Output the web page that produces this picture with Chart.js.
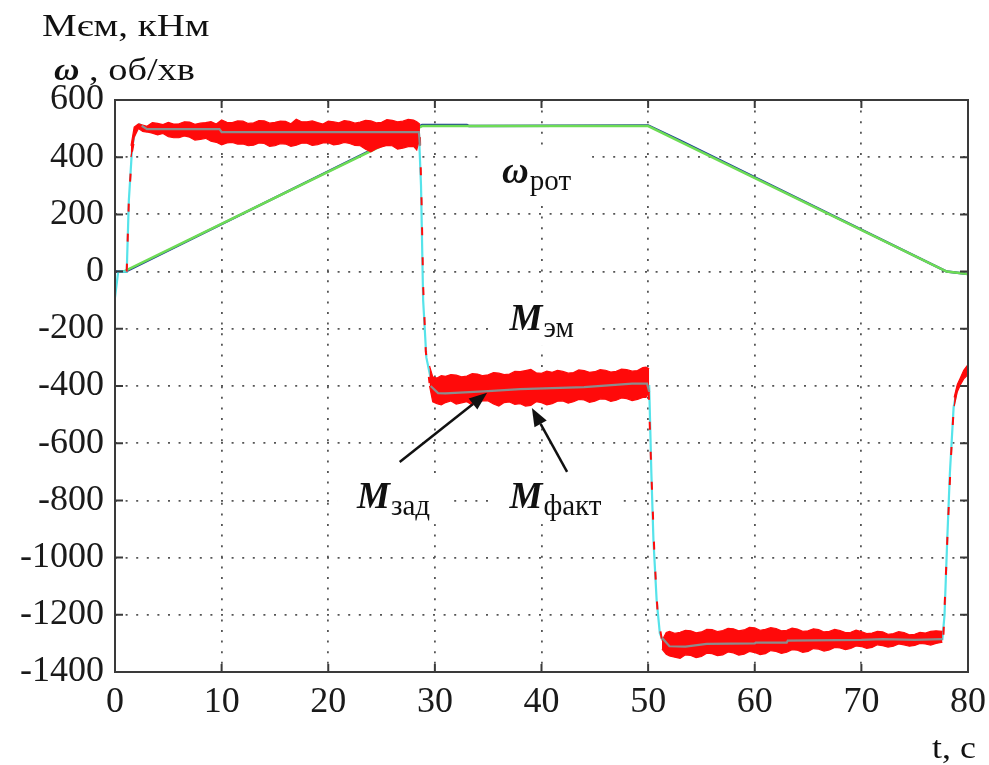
<!DOCTYPE html>
<html>
<head>
<meta charset="utf-8">
<script src="https://cdn.jsdelivr.net/npm/chart.js@4.4.0/dist/chart.umd.min.js"></script>
<style>
  html, body { margin: 0; padding: 0; background: #fff; }
</style>
</head>
<body>
<canvas id="myChart" width="989" height="765"></canvas>
<script>
// axis ticks
const xTicks = [0, 10, 20, 30, 40, 50, 60, 70, 80];
const yTicks = [600, 400, 200, 0, -200, -400, -600, -800, -1000, -1200, -1400];

// omega, set value (green) and actual (dark blue)
const omegaRefT = [0.8, 28.8, 50, 78, 80];
const omegaRefV = [0, 509, 509, 0, -8];
const omegaActT = [0, 1.0, 28.8, 33, 33.2, 50, 53, 78, 80];
const omegaActV = [0, 0, 513, 513, 509, 511, 458, 0, -8];

// M zad, full course (cyan)
const mZadT = [0, 0.3, 1.1, 1.3, 1.6, 1.9, 2.3, 3, 9, 10, 28.5, 28.7, 28.9, 29.2, 29.7, 30.3, 35, 40, 45, 49,
  50.1, 50.3, 50.5, 50.8, 51.1, 51.5, 51.9, 55, 60, 63, 70, 77.6, 77.8, 78.05, 78.3, 78.65, 79, 79.5, 80];
const mZadV = [-90, 0, 0, 250, 430, 495, 515, 498, 497, 488, 488, 300, -100, -300, -390, -425, -420, -410, -405, -395,
  -400, -700, -940, -1150, -1265, -1300, -1308, -1302, -1297, -1290, -1286, -1285, -1200, -940, -705, -475, -403, -370, -345];

// M zad in steady state (grey, null = gap)
const mGreyT = [2.5, 3, 9.8, 10, 28.5, 28.6, 28.7, 29.6, 30.3, 31, 35, 38, 44, 48.5, 49.9, 50.1, 50.2,
  51.3, 52, 53.5, 55.5, 60, 60.1, 63, 63.1, 70, 72, 75, 77.6];
const mGreyV = [510, 498, 498, 488, 488, 440, null, -400, -425, -426, -418, -411, -404, -392, -392, -420, null,
  -1280, -1310, -1311, -1302, -1300, -1297, -1297, -1290, -1288, -1285, -1288, -1285];

// M fakt transitions (red dashes, null = gap)
const mTransT = [1.1, 1.3, 1.6, 2.0, 2.1, 28.6, 28.75, 28.9, 29.15, 29.5, 29.6, 50.05, 50.3, 50.6, 50.9, 51.3, 51.4, 77.7, 78.1, 78.4, 78.7];
const mTransV = [0, 250, 420, 500, null, 470, 250, -50, -280, -390, null, -420, -700, -1000, -1200, -1290, null, -1270, -900, -650, -450];

// M fakt noise band, upper and lower edge per segment
const s1T = [1.5, 1.8, 2.2, 2.6, 3, 3.5, 4, 4.5, 5, 5.5, 6, 6.5, 7, 7.5, 8, 8.5, 9, 9.5, 10, 10.5, 11, 11.5, 12, 12.5, 13, 13.5, 14, 14.5, 15, 15.5,
  16, 16.5, 17, 17.5, 18, 18.5, 19, 19.5, 20, 20.5, 21, 21.5, 22, 22.5, 23, 23.5, 24, 24.5, 25, 25.5, 26, 26.5, 27, 27.5, 28, 28.3, 28.6];
const s1Hi = [440, 505, 516, 512, 508, 521, 518, 514, 522, 516, 517, 524, 523, 515, 519, 521, 524, 516, 530, 522, 521, 527, 526, 518, 520, 528, 527, 519, 522, 526,
  525, 517, 533, 524, 524, 527, 521, 516, 526, 524, 520, 528, 525, 519, 523, 529, 527, 520, 522, 531, 529, 524, 526, 532, 530, 524, 515];
const s1Lo = [400, 470, 500, 490, 488, 484, 478, 483, 472, 468, 468, 474, 470, 460, 462, 466, 456, 452, 443, 450, 452, 446, 446, 440, 442, 450, 448, 438, 440, 447,
  446, 438, 442, 449, 449, 441, 444, 450, 451, 443, 446, 452, 448, 441, 440, 428, 419, 430, 436, 441, 440, 428, 432, 437, 438, 425, 470];

const s2T = [29.5, 29.8, 30.2, 30.6, 31, 31.5, 32, 32.5, 33, 33.5, 34, 34.5, 35, 35.5, 36, 36.5, 37, 37.5, 38, 38.5, 39, 39.5, 40, 40.5, 41, 41.5, 42, 42.5,
  43, 43.5, 44, 44.5, 45, 45.5, 46, 46.5, 47, 47.5, 48, 48.5, 49, 49.5, 49.8, 50.1];
const s2Hi = [-330, -368, -372, -364, -366, -360, -362, -368, -365, -357, -358, -364, -361, -353, -355, -360, -358, -349, -350, -346, -342, -354, -356, -348,
  -352, -345, -349, -355, -353, -344, -346, -352, -350, -343, -345, -351, -349, -341, -343, -348, -346, -336, -334, -340];
const s2Lo = [-400, -455, -462, -466, -458, -452, -463, -459, -455, -466, -460, -451, -452, -463, -470, -458, -456, -464, -462, -470, -468, -455, -458, -466,
  -462, -453, -452, -460, -455, -447, -449, -457, -453, -445, -446, -454, -450, -442, -444, -451, -447, -440, -440, -420];

const s3T = [51.3, 51.7, 52, 52.5, 53, 53.5, 54, 54.5, 55, 55.5, 56, 56.5, 57, 57.5, 58, 58.5, 59, 59.5, 60, 60.5, 61, 61.5, 62, 62.5, 63, 63.5, 64, 64.5,
  65, 65.5, 66, 66.5, 67, 67.5, 68, 68.5, 69, 69.5, 70, 70.5, 71, 71.5, 72, 72.5, 73, 73.5, 74, 74.5, 75, 75.5, 76, 76.5, 77, 77.6];
const s3Hi = [-1290, -1262, -1258, -1265, -1261, -1254, -1256, -1263, -1260, -1251, -1252, -1259, -1255, -1247, -1249, -1256, -1253, -1244, -1246, -1254,
  -1251, -1245, -1248, -1256, -1254, -1247, -1250, -1258, -1256, -1249, -1252, -1260, -1258, -1251, -1255, -1262, -1261, -1254, -1259, -1266, -1264, -1258,
  -1260, -1268, -1266, -1259, -1262, -1270, -1268, -1261, -1264, -1258, -1256, -1258];
const s3Lo = [-1320, -1338, -1344, -1348, -1352, -1340, -1342, -1350, -1346, -1334, -1336, -1343, -1340, -1330, -1333, -1341, -1338, -1328, -1332, -1339,
  -1336, -1325, -1328, -1335, -1331, -1322, -1324, -1331, -1328, -1318, -1320, -1327, -1323, -1314, -1316, -1322, -1318, -1309, -1311, -1317, -1314,
  -1305, -1308, -1313, -1310, -1302, -1305, -1310, -1307, -1300, -1302, -1306, -1300, -1296];

const s4T = [78.7, 79.0, 79.3, 79.6, 80];
const s4Hi = [-440, -395, -370, -345, -325];
const s4Lo = [-470, -420, -395, -375, -360];

const pts = (xs, ys) => xs.map((x, i) => ({ x: x, y: ys[i] }));

const RED = '#ff0a0a';

function band(t, hi, lo) {
  return [
    { data: pts(t, hi), borderColor: RED, borderWidth: 1.2, order: 3 },
    { data: pts(t, lo), borderColor: RED, borderWidth: 1.2, backgroundColor: RED, fill: '-1', order: 3 }
  ];
}

// in-plot labels (data coords of the main letter's baseline)
const notes = [
  { main: 'ω', sub: 'рот', t: 36.3, v: 310 },
  { main: 'M', sub: 'эм', t: 37.0, v: -204 },
  { main: 'M', sub: 'зад', t: 22.7, v: -827 },
  { main: 'M', sub: 'факт', t: 37.0, v: -827 }
];
const arrows = [
  { t0: 26.7, v0: -666, t1: 34.9, v1: -424 },
  { t0: 42.4, v0: -700, t1: 39.1, v1: -477 }
];

// text stretched a little wider, as in the source figure
function wideText(ctx, text, px, py, sx) {
  ctx.save();
  ctx.translate(px, py);
  ctx.scale(sx, 1);
  ctx.fillText(text, 0, 0);
  ctx.restore();
  return ctx.measureText(text).width * sx;
}

const decor = {
  id: 'decor',
  afterDatasetsDraw(chart) {
    const { ctx, scales: { x, y } } = chart;
    ctx.save();
    // labels with white backing
    notes.forEach(n => {
      const px = x.getPixelForValue(n.t);
      const py = y.getPixelForValue(n.v);
      ctx.font = 'bold italic 37px "Liberation Serif"';
      const w1 = ctx.measureText(n.main).width;
      ctx.font = '29px "Liberation Serif"';
      const w2 = ctx.measureText(n.sub).width;
      ctx.fillStyle = '#fff';
      ctx.fillRect(px - 20, py - 30, w1 + w2 + 42, 46);
      ctx.fillStyle = '#111';
      ctx.textBaseline = 'alphabetic';
      ctx.font = 'bold italic 37px "Liberation Serif"';
      ctx.fillText(n.main, px, py);
      ctx.font = '29px "Liberation Serif"';
      ctx.fillText(n.sub, px + w1 + 1, py + 7);
    });
    // arrows
    ctx.strokeStyle = '#111';
    ctx.fillStyle = '#111';
    ctx.lineWidth = 2.5;
    arrows.forEach(a => {
      const x0 = x.getPixelForValue(a.t0), y0 = y.getPixelForValue(a.v0);
      const x1 = x.getPixelForValue(a.t1), y1 = y.getPixelForValue(a.v1);
      const ang = Math.atan2(y1 - y0, x1 - x0);
      const hl = 18, hw = 7;
      const bx = x1 - hl * Math.cos(ang), by = y1 - hl * Math.sin(ang);
      ctx.beginPath();
      ctx.moveTo(x0, y0);
      ctx.lineTo(bx, by);
      ctx.stroke();
      ctx.beginPath();
      ctx.moveTo(x1, y1);
      ctx.lineTo(bx + hw * Math.sin(ang), by - hw * Math.cos(ang));
      ctx.lineTo(bx - hw * Math.sin(ang), by + hw * Math.cos(ang));
      ctx.closePath();
      ctx.fill();
    });
    ctx.restore();
  },
  afterDraw(chart) {
    const { ctx, chartArea: a, scales: { x, y } } = chart;
    ctx.save();
    // frame and inward ticks
    ctx.strokeStyle = '#3a3a3a';
    ctx.lineWidth = 2;
    ctx.strokeRect(a.left, a.top, a.right - a.left, a.bottom - a.top);
    ctx.beginPath();
    xTicks.forEach(t => {
      const px = x.getPixelForValue(t);
      ctx.moveTo(px, a.bottom); ctx.lineTo(px, a.bottom - 8);
      ctx.moveTo(px, a.top); ctx.lineTo(px, a.top + 8);
    });
    yTicks.forEach(v => {
      const py = y.getPixelForValue(v);
      ctx.moveTo(a.left, py); ctx.lineTo(a.left + 8, py);
      ctx.moveTo(a.right, py); ctx.lineTo(a.right - 8, py);
    });
    ctx.stroke();
    // axis titles
    ctx.fillStyle = '#111';
    ctx.textBaseline = 'alphabetic';
    ctx.font = '32px "Liberation Serif"';
    wideText(ctx, 'Mєм, кНм', 42, 36, 1.22);
    ctx.font = 'bold italic 32px "Liberation Serif"';
    const ww = wideText(ctx, 'ω', 54, 80, 1.1);
    ctx.font = '32px "Liberation Serif"';
    wideText(ctx, ' , об/хв', 54 + ww, 80, 1.2);
    wideText(ctx, 't, c', 932, 758, 1.12);
    ctx.restore();
  }
};

const ctx = document.getElementById('myChart');

const myChart = new Chart(ctx, {
  type: 'line',
  data: {
    datasets: [
      { data: pts(mGreyT, mGreyV), borderColor: '#8c8c8c', borderWidth: 2.2, order: 1 },
      { data: pts(mTransT, mTransV), borderColor: RED, borderWidth: 2, borderDash: [8, 22], order: 2 },
      ...band(s1T, s1Hi, s1Lo),
      ...band(s2T, s2Hi, s2Lo),
      ...band(s3T, s3Hi, s3Lo),
      ...band(s4T, s4Hi, s4Lo),
      { data: pts(mZadT, mZadV), borderColor: '#56e3ea', borderWidth: 2.2, order: 4 },
      { data: pts(omegaRefT, omegaRefV), borderColor: '#6ddc55', borderWidth: 2.5, order: 5 },
      { data: pts(omegaActT, omegaActV), borderColor: '#1d3c96', borderWidth: 2.5, order: 6 }
    ]
  },
  options: {
    responsive: false,
    animation: false,
    devicePixelRatio: 1,
    spanGaps: false,
    elements: {
      point: { radius: 0 },
      line: { tension: 0, fill: false }
    },
    layout: { padding: { top: 100, right: 21, left: 0, bottom: 0 } },
    plugins: {
      legend: { display: false },
      tooltip: { enabled: false }
    },
    scales: {
      x: {
        type: 'linear',
        min: 0,
        max: 80,
        afterFit: s => { s.height = 93; s.paddingLeft = 0; s.paddingRight = 0; },
        afterBuildTicks: s => { s.ticks = xTicks.map(v => ({ value: v })); },
        ticks: {
          color: '#1a1a1a',
          font: { family: 'Liberation Serif', size: 36 },
          padding: 9,
          maxRotation: 0,
          autoSkip: false,
          callback: v => String(v)
        },
        grid: { color: '#555', lineWidth: 1.8, drawTicks: false },
        border: { display: false, dash: [2, 8.6] }
      },
      y: {
        min: -1400,
        max: 600,
        afterFit: s => { s.width = 115; s.paddingTop = 0; s.paddingBottom = 0; },
        afterBuildTicks: s => { s.ticks = yTicks.map(v => ({ value: v })); },
        ticks: {
          color: '#1a1a1a',
          font: { family: 'Liberation Serif', size: 36 },
          padding: 11,
          autoSkip: false,
          callback: v => String(v)
        },
        grid: { color: '#555', lineWidth: 1.8, drawTicks: false },
        border: { display: false, dash: [2, 8.6] }
      }
    }
  },
  plugins: [decor]
});
</script>
</body>
</html>
